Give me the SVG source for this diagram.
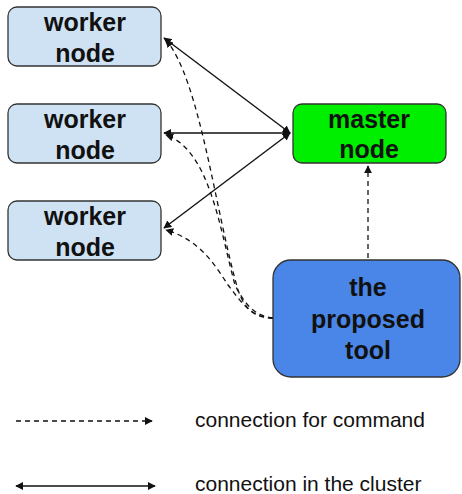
<svg xmlns="http://www.w3.org/2000/svg" width="462" height="494" viewBox="0 0 462 494">
  <style>
    .box { stroke: #333; stroke-width: 1.3; }
    .worker { fill: #cfe2f3; }
    .master { fill: #00ee00; }
    .tool { fill: #4a86e8; }
    .lbl { font-family: "Liberation Sans", Arial, sans-serif; font-weight: bold; font-size: 25px; fill: #111; text-anchor: middle; }
    .solid { stroke: #111; stroke-width: 1.4; fill: none; }
    .dash { stroke: #111; stroke-width: 1.3; fill: none; stroke-dasharray: 5 4; }
    .legend { font-family: "Liberation Sans", Arial, sans-serif; font-size: 21px; fill: #111; }
  </style>
  <defs>
    <marker id="arr" viewBox="0 0 10 10" refX="9" refY="5" markerWidth="8" markerHeight="8" markerUnits="userSpaceOnUse" orient="auto-start-reverse">
      <path d="M0,0 L10,5 L0,10 z" fill="#111"/>
    </marker>
  </defs>
  <rect width="462" height="494" fill="#fff"/>

  <g id="connectors">
    <!-- cluster links: master to each worker -->
    <line class="solid" x1="290" y1="133" x2="164" y2="38" marker-start="url(#arr)" marker-end="url(#arr)"/>
    <line class="solid" x1="290" y1="133" x2="164" y2="133" marker-start="url(#arr)" marker-end="url(#arr)"/>
    <line class="solid" x1="290" y1="133" x2="164" y2="228" marker-start="url(#arr)" marker-end="url(#arr)"/>
    <!-- command links: tool to workers and master -->
    <path class="dash" d="M273,318 C255,318 245,310 238,290 C215,210 200,80 166,40" marker-end="url(#arr)"/>
    <path class="dash" d="M273,318 C255,316 245,305 235,285 C220,230 210,150 166,135" marker-end="url(#arr)"/>
    <path class="dash" d="M273,318 C250,318 240,300 228,285 C215,265 200,240 166,230" marker-end="url(#arr)"/>
    <line class="dash" x1="368" y1="258" x2="368" y2="166" marker-end="url(#arr)"/>
  </g>

  <g id="worker1">
    <rect class="box worker" x="8" y="7" width="153" height="59" rx="9"/>
    <text class="lbl" x="85" y="31">worker</text>
    <text class="lbl" x="85" y="62">node</text>
  </g>
  <g id="worker2">
    <rect class="box worker" x="8" y="104" width="153" height="59" rx="9"/>
    <text class="lbl" x="85" y="128">worker</text>
    <text class="lbl" x="85" y="159">node</text>
  </g>
  <g id="worker3">
    <rect class="box worker" x="8" y="201" width="153" height="59" rx="9"/>
    <text class="lbl" x="85" y="225">worker</text>
    <text class="lbl" x="85" y="256">node</text>
  </g>
  <g id="master">
    <rect class="box master" x="293" y="104" width="153" height="59" rx="9"/>
    <text class="lbl" x="369" y="128">master</text>
    <text class="lbl" x="369" y="158">node</text>
  </g>
  <g id="tool">
    <rect class="box tool" x="273" y="260" width="187" height="117" rx="18"/>
    <text class="lbl" x="368" y="296">the</text>
    <text class="lbl" x="368" y="328">proposed</text>
    <text class="lbl" x="368" y="359">tool</text>
  </g>

  <g id="legend">
    <line class="dash" x1="16" y1="421" x2="152" y2="421" marker-end="url(#arr)"/>
    <text class="legend" x="195" y="427">connection for command</text>
    <line class="solid" x1="16" y1="486" x2="155" y2="486" marker-start="url(#arr)" marker-end="url(#arr)"/>
    <text class="legend" x="195" y="491">connection in the cluster</text>
  </g>
</svg>
